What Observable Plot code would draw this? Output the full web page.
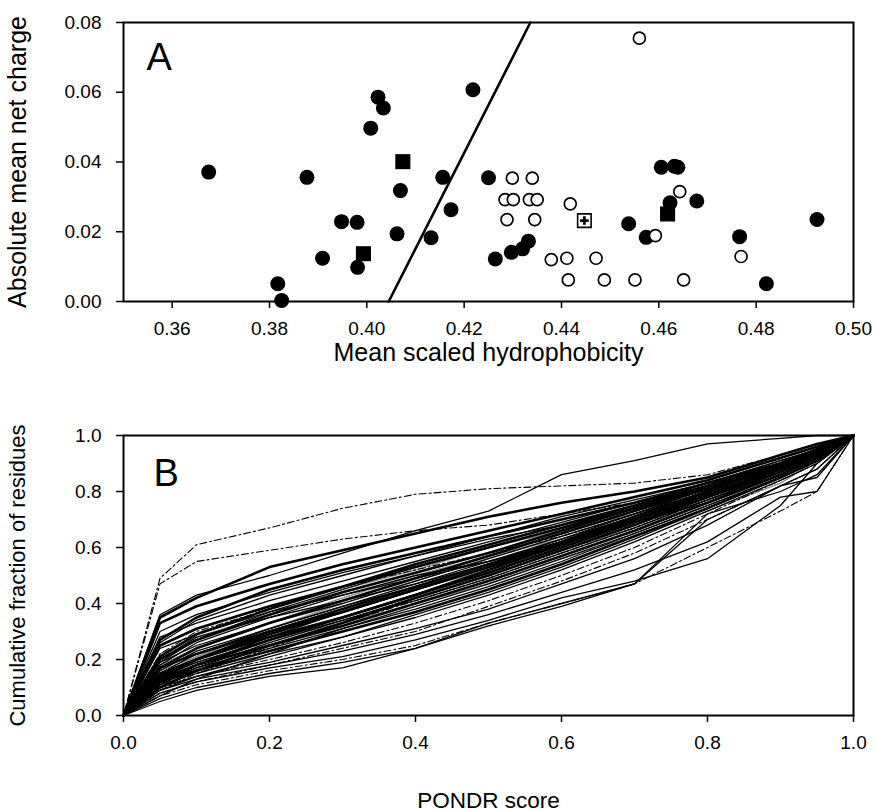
<!DOCTYPE html>
<html>
<head>
<meta charset="utf-8">
<script src="https://cdn.jsdelivr.net/npm/d3@7"></script>
<script src="https://cdn.jsdelivr.net/npm/@observablehq/plot@0.6"></script>
<style>
  body { margin: 0; background: #fff; }
  #chart { position: relative; width: 875px; height: 812px; background: #fff; }
  #chart svg { display: block; }
</style>
</head>
<body>
<div id="chart"></div>
<script>
// ---------- Panel A: scatter ----------
const filledX = [0.3675, 0.3877, 0.4023, 0.4034, 0.4008, 0.4218, 0.4069, 0.4156, 0.4173, 0.4250,
                 0.3948, 0.3980, 0.4062, 0.4132, 0.3909, 0.3981, 0.3817, 0.3825, 0.4264,
                 0.4605, 0.4632, 0.4639, 0.4623, 0.4678, 0.4538, 0.4574, 0.4766, 0.4821, 0.4925,
                 0.4297, 0.4320, 0.4332];
const filledY = [0.0371, 0.0356, 0.0586, 0.0555, 0.0497, 0.0607, 0.0318, 0.0356, 0.0263, 0.0355,
                 0.0229, 0.0227, 0.0194, 0.0183, 0.0124, 0.0098, 0.0051, 0.0003, 0.0122,
                 0.0385, 0.0388, 0.0385, 0.0283, 0.0288, 0.0223, 0.0184, 0.0186, 0.0051, 0.0235,
                 0.0141, 0.0151, 0.0173];
const squareX = [0.4074, 0.3993, 0.4618];
const squareY = [0.0401, 0.0137, 0.0251];
const openX = [0.4560, 0.4299, 0.4340, 0.4284, 0.4301, 0.4334, 0.4350, 0.4288, 0.4345, 0.4418,
               0.4379, 0.4411, 0.4471, 0.4414, 0.4488, 0.4551, 0.4651, 0.4593, 0.4643, 0.4769];
const openY = [0.0755, 0.0354, 0.0354, 0.0292, 0.0292, 0.0292, 0.0292, 0.0235, 0.0235, 0.0280,
               0.0120, 0.0124, 0.0124, 0.0062, 0.0062, 0.0062, 0.0062, 0.0189, 0.0315, 0.0129];
const markedX = [0.4447];
const markedY = [0.0232];
const boundaryX = [0.4045, 0.4336];
const boundaryY = [0.0, 0.08];
const xTicksA = [0.36, 0.38, 0.40, 0.42, 0.44, 0.46, 0.48, 0.50];
const yTicksA = [0.00, 0.02, 0.04, 0.06, 0.08];

// ---------- Panel B: cumulative distributions ----------
const pondrX = [0, 0.05, 0.1, 0.2, 0.3, 0.4, 0.5, 0.6, 0.7, 0.8, 0.9, 0.95, 1.0];
const cdfSeries = [
  [0,.49,.61,.67,.74,.79,.81,.82,.83,.86,.93,.97,1],
  [0,.47,.55,.59,.63,.66,.68,.72,.76,.81,.89,.94,1],
  [0,.36,.43,.50,.58,.66,.73,.86,.91,.97,.99,1,1],
  [0,.35,.42,.53,.59,.65,.71,.76,.80,.85,.93,.97,1],
  [0,.33,.39,.47,.54,.60,.66,.72,.78,.84,.92,.96,1],
  [0,.30,.36,.44,.51,.57,.64,.71,.77,.83,.91,.95,1],
  [0,.28,.33,.41,.48,.55,.62,.69,.76,.82,.90,.95,1],
  [0,.26,.34,.43,.50,.57,.63,.68,.74,.81,.88,.93,1],
  [0,.25,.31,.39,.46,.53,.60,.67,.74,.81,.89,.94,1],
  [0,.24,.29,.37,.43,.49,.55,.62,.70,.78,.87,.93,1],
  [0,.22,.30,.38,.46,.52,.58,.64,.72,.80,.89,.95,1],
  [0,.22,.28,.36,.45,.52,.60,.66,.72,.79,.88,.94,1],
  [0,.20,.27,.36,.44,.51,.58,.66,.74,.82,.90,.95,1],
  [0,.20,.28,.35,.41,.47,.54,.61,.69,.78,.87,.93,1],
  [0,.19,.25,.33,.40,.48,.56,.64,.72,.80,.89,.94,1],
  [0,.18,.24,.33,.42,.50,.57,.63,.70,.79,.88,.94,1],
  [0,.18,.26,.35,.43,.50,.55,.62,.69,.76,.87,.93,1],
  [0,.17,.22,.30,.37,.45,.53,.61,.70,.79,.88,.94,1],
  [0,.16,.21,.29,.38,.45,.52,.59,.67,.76,.85,.92,1],
  [0,.16,.23,.31,.39,.46,.54,.63,.72,.81,.90,.95,1],
  [0,.15,.20,.28,.35,.43,.51,.60,.69,.78,.87,.93,1],
  [0,.14,.20,.29,.37,.45,.53,.62,.71,.80,.89,.94,1],
  [0,.14,.19,.27,.34,.41,.49,.58,.67,.77,.86,.92,1],
  [0,.13,.18,.25,.32,.40,.48,.57,.66,.76,.86,.92,1],
  [0,.13,.19,.27,.33,.40,.47,.56,.64,.73,.83,.91,1],
  [0,.12,.17,.24,.31,.38,.46,.55,.65,.75,.85,.91,1],
  [0,.12,.16,.23,.30,.37,.45,.54,.64,.74,.85,.91,1],
  [0,.12,.18,.27,.35,.43,.52,.61,.70,.79,.88,.93,1],
  [0,.11,.15,.22,.28,.35,.43,.52,.62,.73,.84,.90,1],
  [0,.11,.17,.26,.34,.42,.50,.59,.68,.77,.87,.92,1],
  [0,.10,.14,.20,.26,.33,.41,.50,.60,.72,.84,.90,1],
  [0,.10,.16,.25,.33,.42,.50,.59,.68,.78,.88,.93,1],
  [0,.10,.14,.19,.25,.31,.38,.47,.56,.68,.82,.85,1],
  [0,.09,.15,.24,.33,.41,.49,.58,.67,.77,.86,.92,1],
  [0,.09,.13,.18,.23,.29,.36,.44,.52,.62,.78,.80,1],
  [0,.08,.12,.17,.21,.27,.34,.42,.48,.56,.75,.90,1],
  [0,.07,.11,.16,.20,.25,.33,.40,.47,.60,.73,.80,1],
  [0,.07,.13,.22,.31,.39,.47,.56,.65,.75,.85,.91,1],
  [0,.06,.10,.15,.19,.24,.32,.39,.47,.72,.80,.86,1],
  [0,.05,.09,.14,.17,.24,.33,.40,.47,.70,.82,.88,1],
  [0,.21,.29,.38,.46,.54,.61,.68,.75,.82,.90,.95,1],
  [0,.17,.24,.33,.41,.49,.57,.65,.73,.81,.89,.94,1],
  [0,.15,.22,.31,.39,.47,.55,.63,.71,.80,.89,.94,1],
  [0,.13,.20,.30,.38,.46,.54,.62,.71,.80,.89,.94,1],
  [0,.11,.18,.28,.37,.45,.53,.61,.70,.79,.88,.93,1],
  [0,.14,.21,.31,.40,.48,.56,.64,.72,.81,.90,.95,1],
  [0,.19,.27,.37,.45,.53,.60,.67,.75,.83,.91,.95,1],
  [0,.09,.14,.21,.28,.36,.44,.53,.63,.74,.85,.91,1],
  [0,.08,.12,.18,.24,.30,.39,.48,.58,.70,.82,.88,1],
  [0,.27,.35,.45,.52,.58,.64,.70,.76,.83,.90,.95,1]
];
const cdfKind = [
  "dashdot","dashdot","thin","thick","thick","thin","thin","thin","thick","thin",
  "dashdot","gray","thick","thin","thin","gray","thin","thick","gray","thin",
  "thick","thick","thin","thick","gray","thin","thick","thick","thin","thin",
  "dashdot","thick","thin","dashdot","thin","thin","dashdot","thin","thin","thin",
  "thick","thick","thin","thick","thin","gray","thin","thin","dashdot","thick"
];
const ticksB = [0, 0.2, 0.4, 0.6, 0.8, 1.0];

// ---------- build ----------
const FONT = "'Liberation Sans', Arial, Helvetica, sans-serif";
const pts = (xs, ys) => xs.map((x, i) => ({x, y: ys[i]}));

const plotA = Plot.plot({
  width: 875, height: 372,
  marginTop: 22, marginBottom: 71, marginLeft: 123, marginRight: 22,
  x: {domain: [0.35, 0.50]},
  y: {domain: [0, 0.08]},
  style: {fontFamily: FONT, fontSize: "19px", color: "#000", background: "#fff"},
  marks: [
    Plot.axisX({ticks: xTicksA, tickFormat: d3.format(".2f"), tickSize: 7, tickPadding: 13, strokeWidth: 1.5, label: null}),
    Plot.axisY({ticks: yTicksA, tickFormat: d3.format(".2f"), tickSize: 7, tickPadding: 15, strokeWidth: 1.5, label: null}),
    Plot.line(pts(boundaryX, boundaryY), {x: "x", y: "y", stroke: "#000", strokeWidth: 2.6}),
    Plot.dot(pts(filledX, filledY), {x: "x", y: "y", r: 7.5, fill: "#000", stroke: "none"}),
    Plot.dot(pts(squareX, squareY), {x: "x", y: "y", symbol: "square", r: 8.5, fill: "#000", stroke: "none"}),
    Plot.dot(pts(openX, openY), {x: "x", y: "y", r: 6, fill: "#fff", stroke: "#000", strokeWidth: 1.7}),
    Plot.dot(pts(markedX, markedY), {x: "x", y: "y", symbol: "square", r: 7.6, fill: "#fff", stroke: "#000", strokeWidth: 1.6}),
    Plot.dot(pts(markedX, markedY), {x: "x", y: "y", symbol: "cross", r: 3.6, fill: "#000", stroke: "none"}),
    Plot.frame({stroke: "#000", strokeWidth: 2}),
    Plot.text(["A"], {text: d => d, frameAnchor: "top-left", dx: 23, dy: 21, fontSize: 38, textAnchor: "start", lineAnchor: "top"}),
    Plot.text(["Mean scaled hydrophobicity"], {text: d => d, frameAnchor: "bottom", dy: 59, textAnchor: "middle", lineAnchor: "bottom", fontSize: 25})
    ,Plot.text(["Absolute mean net charge"], {text: d => d, frameAnchor: "left", rotate: -90, dx: -106, textAnchor: "middle", lineAnchor: "middle", fontSize: 25})
  ]
});

const rowsB = cdfSeries.flatMap((ys, i) => ys.map((y, j) => ({x: pondrX[j], y, id: i, kind: cdfKind[i]})));
const kindStyle = {
  gray:    {stroke: "#8a8a8a", strokeWidth: 1.5, strokeDasharray: "2,1.5"},
  dashdot: {stroke: "#000", strokeWidth: 1.1, strokeDasharray: "7,3,2,3"},
  thin:    {stroke: "#000", strokeWidth: 1.3},
  thick:   {stroke: "#000", strokeWidth: 2.6}
};
const lineMarks = Object.keys(kindStyle).map(k =>
  Plot.line(rowsB.filter(d => d.kind === k), {x: "x", y: "y", z: "id", ...kindStyle[k]})
);

const plotB = Plot.plot({
  width: 875, height: 440,
  marginTop: 63, marginBottom: 97, marginLeft: 123, marginRight: 22,
  x: {domain: [0, 1]},
  y: {domain: [0, 1]},
  style: {fontFamily: FONT, fontSize: "19px", color: "#000", background: "#fff"},
  marks: [
    Plot.axisX({ticks: ticksB, tickFormat: d3.format(".1f"), tickSize: 7, tickPadding: 13, strokeWidth: 1.5, label: null}),
    Plot.axisY({ticks: ticksB, tickFormat: d3.format(".1f"), tickSize: 7, tickPadding: 15, strokeWidth: 1.5, label: null}),
    ...lineMarks,
    Plot.frame({stroke: "#000", strokeWidth: 2}),
    Plot.text(["B"], {text: d => d, frameAnchor: "top-left", dx: 30, dy: 24, fontSize: 38, textAnchor: "start", lineAnchor: "top"}),
    Plot.text(["PONDR score"], {text: d => d, frameAnchor: "bottom", dy: 92, textAnchor: "middle", lineAnchor: "bottom", fontSize: 22.5}),
    Plot.text(["Cumulative fraction of residues"], {text: d => d, frameAnchor: "left", rotate: -90, dx: -106, textAnchor: "middle", lineAnchor: "middle", fontSize: 22})
  ]
});

const root = document.getElementById("chart");
root.appendChild(plotA);
root.appendChild(plotB);
</script>
</body>
</html>
